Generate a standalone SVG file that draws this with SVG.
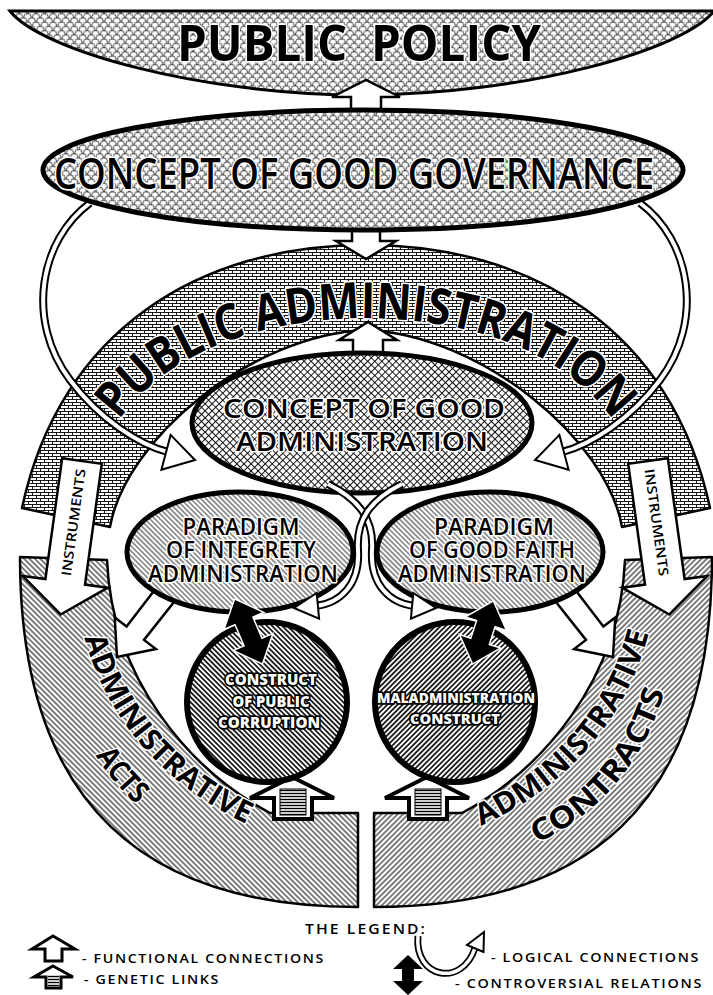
<svg xmlns="http://www.w3.org/2000/svg" width="713" height="995" viewBox="0 0 713 995">
<defs>
<style>
.t{font-family:"Open Sans","Liberation Sans",sans-serif;fill:#000;stroke:#fff;stroke-width:3;paint-order:stroke;stroke-linejoin:round}
.w{font-family:"Open Sans","Liberation Sans",sans-serif;font-weight:800;fill:#fff;stroke:#000;stroke-width:3.5;paint-order:stroke;stroke-linejoin:round}
.wa{fill:#fff;stroke:#000;stroke-width:2.5;stroke-linejoin:miter}
.ba{fill:#000;stroke:#fff;stroke-width:3;paint-order:stroke;stroke-linejoin:miter}
.s1{fill:none;stroke:#000;stroke-width:8}
.s2{fill:none;stroke:#fff;stroke-width:4}
.hd{fill:#fff;stroke:#000;stroke-width:2;stroke-linejoin:miter}
.lg{font-family:"Open Sans","Liberation Sans",sans-serif;font-weight:600;fill:#000}
.band{stroke:#000;stroke-width:2.5;stroke-linejoin:round}
</style>
<pattern id="pWave" width="6" height="6" patternUnits="userSpaceOnUse" patternTransform="rotate(45)">
<rect width="6" height="6" fill="#fff"/>
<path d="M0,1.5 q1.5,-1.5 3,0 t3,0 M4.5,0 q1.5,1.5 0,3 t0,3" fill="none" stroke="#000" stroke-width="0.8"/>
</pattern>
<pattern id="pGrid" width="5" height="5" patternUnits="userSpaceOnUse" patternTransform="rotate(45)">
<rect width="5" height="5" fill="#fff"/>
<path d="M0,0.5H5M0.5,0V5" stroke="#000" stroke-width="0.9"/>
</pattern>
<pattern id="pBrick" width="8" height="6" patternUnits="userSpaceOnUse">
<rect width="8" height="6" fill="#fff"/>
<path d="M0,0.5H8M0,3.5H8M0.5,0.5V3.5M4.5,3.5V6" stroke="#000" stroke-width="0.9" fill="none"/>
</pattern>
<pattern id="pPar" width="3.6" height="3.6" patternUnits="userSpaceOnUse" patternTransform="rotate(-45)">
<rect width="3.6" height="3.6" fill="#fff"/>
<path d="M1.8,0V3.6" stroke="#000" stroke-width="0.8"/>
</pattern>
<pattern id="pAAL" width="3.8" height="3.8" patternUnits="userSpaceOnUse" patternTransform="rotate(-45)">
<rect width="3.8" height="3.8" fill="#fff"/>
<path d="M1.9,0V3.8" stroke="#000" stroke-width="1"/>
</pattern>
<pattern id="pAAR" width="3.8" height="3.8" patternUnits="userSpaceOnUse" patternTransform="rotate(45)">
<rect width="3.8" height="3.8" fill="#fff"/>
<path d="M1.9,0V3.8" stroke="#000" stroke-width="1"/>
</pattern>
<pattern id="pCirL" width="3.6" height="3.6" patternUnits="userSpaceOnUse" patternTransform="rotate(-45)">
<rect width="3.6" height="3.6" fill="#fff"/>
<path d="M1.8,0V3.6" stroke="#000" stroke-width="1.6"/>
</pattern>
<pattern id="pCirR" width="3.6" height="3.6" patternUnits="userSpaceOnUse" patternTransform="rotate(45)">
<rect width="3.6" height="3.6" fill="#fff"/>
<path d="M1.8,0V3.6" stroke="#000" stroke-width="1.6"/>
</pattern>
<pattern id="pStripe" width="4" height="3" patternUnits="userSpaceOnUse">
<rect width="4" height="3" fill="#fff"/>
<path d="M0,1.5H4" stroke="#000" stroke-width="1.4"/>
</pattern>
<path id="paPath" d="M92,472 C128,370 230,320 366,318 C502,320 604,370 640,472"/>
<path id="aaL1" d="M76,594 C90,712 170,802 288,840"/>
<path id="aaL2" d="M52,585 C55,785 175,872 345,875"/>
<path id="aaR1" d="M444,840 C562,802 642,712 656,594"/>
<path id="aaR2" d="M387,875 C557,872 677,785 680,585"/>
</defs>
<rect width="713" height="995" fill="#fff"/>

<g id="public-policy">
<path d="M10,11 L714,11 C684,50 524,95 362,95 C200,95 40,50 10,11 Z" fill="url(#pWave)" stroke="#000" stroke-width="3"/>
<text class="t" x="359" y="61" font-size="50" font-weight="700" text-anchor="middle" textLength="364" lengthAdjust="spacingAndGlyphs" word-spacing="12">PUBLIC POLICY</text>
</g>

<g id="administrative-acts">
<path class="band" d="M20,557 L107,560 C112,680 190,770 270,813 L358,813 L358,907 C150,907 20,810 20,557 Z" fill="url(#pAAL)"/>
<text class="t" font-size="30" font-weight="700"><textPath href="#aaL1" startOffset="50%" text-anchor="middle" textLength="255" lengthAdjust="spacingAndGlyphs">ADMINISTRATIVE</textPath></text>
<text class="t" font-size="30" font-weight="700"><textPath href="#aaL2" startOffset="45%" text-anchor="middle" textLength="64" lengthAdjust="spacingAndGlyphs">ACTS</textPath></text>
</g>

<g id="administrative-contracts">
<path class="band" d="M712,557 L625,560 C620,680 542,770 462,813 L374,813 L374,907 C582,907 712,810 712,557 Z" fill="url(#pAAR)"/>
<text class="t" font-size="30" font-weight="700"><textPath href="#aaR1" startOffset="50%" text-anchor="middle" textLength="265" lengthAdjust="spacingAndGlyphs">ADMINISTRATIVE</textPath></text>
<text class="t" font-size="30" font-weight="700"><textPath href="#aaR2" startOffset="55%" text-anchor="middle" textLength="205" lengthAdjust="spacingAndGlyphs">CONTRACTS</textPath></text>
</g>

<g id="public-administration">
<path class="band" d="M22,508 C60,330 200,245 366,245 C532,245 672,330 710,508 L622,527 C607,440 482,335 366,330 C250,335 125,440 110,527 Z" fill="url(#pBrick)"/>
<text class="t" font-size="50" font-weight="700"><textPath href="#paPath" startOffset="50%" text-anchor="middle" textLength="555" lengthAdjust="spacingAndGlyphs">PUBLIC ADMINISTRATION</textPath></text>
</g>

<g id="connectors">
<g id="logical-gg-left">
<path class="s1" d="M90,203 C40,240 25,320 70,380 C100,420 140,445 168,452"/>
<path class="s2" d="M90,203 C40,240 25,320 70,380 C100,420 140,445 168,452"/>
<polygon class="hd" points="195,460 161.4,469.7 170.6,434.9"/>
</g>
<g id="logical-gg-right">
<path class="s1" d="M640,203 C690,240 705,320 660,380 C630,420 590,445 562,452"/>
<path class="s2" d="M640,203 C690,240 705,320 660,380 C630,420 590,445 562,452"/>
<polygon class="hd" points="535,460 568.6,469.7 559.4,434.9"/>
</g>
<polygon id="func-gg-pp" class="wa" points="351,114 351,97 332,97 366,80 400,97 381,97 381,114"/>
<polygon id="func-gg-pa" class="wa" points="352,222 380,222 380,241 396,241 366,259 336,241 352,241"/>
</g>

<g id="good-governance">
<ellipse cx="363" cy="170" rx="320" ry="60" fill="url(#pWave)" stroke="#000" stroke-width="5"/>
<text class="t" x="354" y="189" font-size="44" font-weight="600" text-anchor="middle" textLength="600" lengthAdjust="spacingAndGlyphs">CONCEPT OF GOOD GOVERNANCE</text>
</g>

<g id="connectors-2">
<g id="instruments-left">
<polygon class="wa" points="62.2,458.2 101.8,463.8 85,584.6 107.8,587.7 60.6,614.5 22.6,575.9 45.4,579"/>
<text class="t" transform="translate(73.4,522.4) rotate(-82.1)" x="0" y="4.8" font-size="13.5" font-weight="600" text-anchor="middle" textLength="108" lengthAdjust="spacingAndGlyphs">INSTRUMENTS</text>
</g>
<g id="instruments-right">
<polygon class="wa" points="667.8,458.2 628.2,463.8 645,584.6 622.2,587.7 669.4,614.5 707.4,575.9 684.6,579"/>
<text class="t" transform="translate(656.6,522.4) rotate(82.1)" x="0" y="4.8" font-size="13.5" font-weight="600" text-anchor="middle" textLength="108" lengthAdjust="spacingAndGlyphs">INSTRUMENTS</text>
</g>
<polygon id="func-par-left" class="wa" points="160,583 178,597 144,639.9 155.9,649 117,657 114.7,617.4 126.6,626.5"/>
<polygon id="func-par-right" class="wa" points="570,583 552,597 586,639.9 574.1,649 613,657 615.3,617.4 603.4,626.5"/>
<polygon id="func-ga-pa" class="wa" points="353,360 353,340 339,340 368,322 397,340 383,340 383,360"/>
</g>

<g id="good-administration">
<ellipse cx="362" cy="423" rx="170" ry="70" fill="url(#pGrid)" stroke="#000" stroke-width="5"/>
<text class="t" x="364" y="418" font-size="27" font-weight="600" text-anchor="middle" textLength="282" lengthAdjust="spacingAndGlyphs">CONCEPT OF GOOD</text>
<text class="t" x="362" y="451" font-size="27" font-weight="600" text-anchor="middle" textLength="252" lengthAdjust="spacingAndGlyphs">ADMINISTRATION</text>
</g>

<g id="paradigm-integrity">
<ellipse cx="240" cy="552" rx="113" ry="60" fill="url(#pPar)" stroke="#000" stroke-width="5"/>
<text class="t" x="241" y="535" font-size="23" font-weight="600" text-anchor="middle" textLength="117" lengthAdjust="spacingAndGlyphs">PARADIGM</text>
<text class="t" x="241" y="558" font-size="23" font-weight="600" text-anchor="middle" textLength="150" lengthAdjust="spacingAndGlyphs">OF INTEGRETY</text>
<text class="t" x="243" y="582" font-size="23" font-weight="600" text-anchor="middle" textLength="190" lengthAdjust="spacingAndGlyphs">ADMINISTRATION</text>
</g>

<g id="paradigm-good-faith">
<ellipse cx="490" cy="552" rx="113" ry="60" fill="url(#pPar)" stroke="#000" stroke-width="5"/>
<text class="t" x="494" y="535" font-size="23" font-weight="600" text-anchor="middle" textLength="120" lengthAdjust="spacingAndGlyphs">PARADIGM</text>
<text class="t" x="492" y="558" font-size="23" font-weight="600" text-anchor="middle" textLength="166" lengthAdjust="spacingAndGlyphs">OF GOOD FAITH</text>
<text class="t" x="492" y="582" font-size="23" font-weight="600" text-anchor="middle" textLength="188" lengthAdjust="spacingAndGlyphs">ADMINISTRATION</text>
</g>

<g id="connectors-3">
<g id="logical-ga-right">
<path class="s1" d="M328,484 C360,500 374,520 372,550 C370,585 390,603 414,606"/>
<path class="s2" d="M328,484 C360,500 374,520 372,550 C370,585 390,603 414,606"/>
<polygon class="hd" points="436,608 410.9,618.7 413.3,592.9"/>
</g>
<g id="logical-ga-left">
<path class="s1" d="M402,484 C370,500 356,520 358,550 C360,585 340,603 316,606"/>
<path class="s2" d="M402,484 C370,500 356,520 358,550 C360,585 340,603 316,606"/>
<polygon class="hd" points="294,608 319.1,618.7 316.7,592.9"/>
</g>
<g id="genetic-left">
<path d="M274,819 L274,798 L250,798 L292,777 L334,798 L312,798 L312,819 Z" fill="#fff" stroke="#000" stroke-width="4" stroke-linejoin="miter"/>
<rect x="280" y="789" width="26" height="26" fill="url(#pStripe)" stroke="#000" stroke-width="1"/>
</g>
<g id="genetic-right">
<path d="M409,819 L409,798 L385,798 L427,777 L469,798 L447,798 L447,819 Z" fill="#fff" stroke="#000" stroke-width="4" stroke-linejoin="miter"/>
<rect x="415" y="789" width="26" height="26" fill="url(#pStripe)" stroke="#000" stroke-width="1"/>
</g>
</g>

<g id="public-corruption">
<ellipse cx="267" cy="702" rx="80" ry="80" fill="url(#pCirL)" stroke="#000" stroke-width="6"/>
<text class="w" x="271" y="685" font-size="15" text-anchor="middle" textLength="92" lengthAdjust="spacingAndGlyphs">CONSTRUCT</text>
<text class="w" x="271" y="707" font-size="15" text-anchor="middle" textLength="77" lengthAdjust="spacingAndGlyphs">OF PUBLIC</text>
<text class="w" x="269" y="728" font-size="15" text-anchor="middle" textLength="102" lengthAdjust="spacingAndGlyphs">CORRUPTION</text>
</g>

<g id="maladministration">
<ellipse cx="455" cy="702" rx="80" ry="80" fill="url(#pCirR)" stroke="#000" stroke-width="6"/>
<text class="w" x="456" y="703" font-size="14" text-anchor="middle" textLength="158" lengthAdjust="spacingAndGlyphs">MALADMINISTRATION</text>
<text class="w" x="455" y="724" font-size="14" text-anchor="middle" textLength="90" lengthAdjust="spacingAndGlyphs">CONSTRUCT</text>
</g>

<g id="connectors-4">
<polygon id="controversial-left" class="ba" transform="translate(235,600) rotate(66.8)" points="0,0 22,-20 22,-9 46.5,-9 46.5,-20 68.5,0 46.5,20 46.5,9 22,9 22,20"/>
<polygon id="controversial-right" class="ba" transform="translate(493,602) rotate(108.2)" points="0,0 22,-20 22,-9 42.2,-9 42.2,-20 64.2,0 42.2,20 42.2,9 22,9 22,20"/>
</g>

<g id="legend">
<text class="lg" x="366" y="934" font-size="15" text-anchor="middle" letter-spacing="2" textLength="122" lengthAdjust="spacingAndGlyphs">THE LEGEND:</text>
<polygon points="53,936 75,949 62,949 62,961 45,961 45,949 32,949" fill="#fff" stroke="#000" stroke-width="3"/>
<text class="lg" x="82" y="963" font-size="13" letter-spacing="1.5" textLength="243" lengthAdjust="spacingAndGlyphs">- FUNCTIONAL CONNECTIONS</text>
<polygon points="53,966 73,977 61,977 61,988 46,988 46,977 34,977" fill="#fff" stroke="#000" stroke-width="3"/>
<rect x="48" y="975" width="11" height="11" fill="url(#pStripe)"/>
<text class="lg" x="84" y="984" font-size="13" letter-spacing="1.5" textLength="136" lengthAdjust="spacingAndGlyphs">- GENETIC LINKS</text>
<path class="s1" d="M418,936 C414,978 462,988 475,948" style="stroke-width:7"/>
<path class="s2" d="M418,936 C414,978 462,988 475,948" style="stroke-width:3.5"/>
<polygon class="hd" points="484,932 483.5,952 467,945"/>
<text class="lg" x="491" y="962" font-size="13" letter-spacing="1.5" textLength="209" lengthAdjust="spacingAndGlyphs">- LOGICAL CONNECTIONS</text>
<polygon fill="#000" points="408,955 423,969 414,969 414,981 423,981 408,995 393,981 402,981 402,969 393,969"/>
<text class="lg" x="455" y="988" font-size="13" letter-spacing="1.5" textLength="248" lengthAdjust="spacingAndGlyphs">- CONTROVERSIAL RELATIONS</text>
</g>
</svg>
